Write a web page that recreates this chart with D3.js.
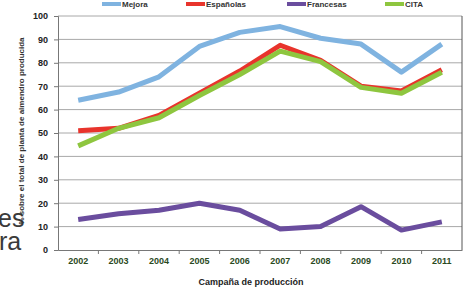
<html>
<head>
  <style>
    body { margin: 0; background: #fff; }
    svg { display: block; }
  </style>
  <script src="https://d3js.org/d3.v7.min.js"></script>
</head>
<body>
  <svg></svg>
  <script type="text/javascript">
    var years = ["2002", "2003", "2004", "2005", "2006", "2007", "2008", "2009", "2010", "2011"]
    var mejora = [64, 67.5, 74, 87, 93, 95.5, 90.5, 88, 76, 88]
    var espanolas = [51, 52, 57.5, 67, 76.5, 87.5, 81, 70, 68, 77]
    var francesas = [13, 15.5, 17, 20, 17, 9, 10, 18.5, 8.5, 12]
    var cita = [44.5, 52, 56.5, 66, 75, 85, 80.5, 69.5, 67, 76]
    var yTicks = [0, 10, 20, 30, 40, 50, 60, 70, 80, 90, 100]

    var series = [
      {name: "Mejora", values: mejora, color: "#7fb3e0"},
      {name: "Españolas", values: espanolas, color: "#e8342c"},
      {name: "Francesas", values: francesas, color: "#6a4d9e"},
      {name: "CITA", values: cita, color: "#8ec63f"}
    ]

    var w = 470
    var h = 291
    var padLeft = 58
    var padRight = 462
    var padTop = 16
    var padBottom = 250

    var svg = d3.select("svg")
      .attr("width", w)
      .attr("height", h)

    // leftovers of the slide behind the chart
    svg.append("text").text("es")
      .attr("x", -2).attr("y", 227)
      .style("font-family", "Liberation Sans, Arial").style("font-size", "25px").attr("fill", "#3a3a3a")
    svg.append("text").text("ra")
      .attr("x", -1).attr("y", 250)
      .style("font-family", "Liberation Sans, Arial").style("font-size", "25px").attr("fill", "#3a3a3a")

    var xScale = d3.scaleBand()
      .domain(years)
      .range([padLeft, padRight])

    var yScale = d3.scaleLinear()
      .domain([0, 100])
      .range([padBottom, padTop])

    // grid
    svg.append("g").selectAll("line")
      .data(yTicks.slice(1))
      .enter()
      .append("line")
      .attr("x1", padLeft).attr("x2", padRight)
      .attr("y1", function(d) { return yScale(d) })
      .attr("y2", function(d) { return yScale(d) })
      .attr("stroke", "#a8a8a8")
      .attr("stroke-width", 1)

    // right border
    svg.append("line")
      .attr("x1", padRight).attr("x2", padRight)
      .attr("y1", padTop).attr("y2", padBottom)
      .attr("stroke", "#555")

    // axes
    var yAxis = d3.axisLeft(yScale)
      .tickValues(yTicks)
      .tickSize(4)
      .tickPadding(6)

    var gy = svg.append("g")
      .attr("transform", "translate(" + padLeft + ",0)")
      .call(yAxis)
    gy.select(".domain").attr("stroke", "#777")
    gy.selectAll(".tick line").attr("stroke", "#777")
    gy.selectAll("text")
      .style("font-family", "Liberation Sans, Arial")
      .style("font-size", "9px")
      .style("font-weight", "bold")
      .attr("fill", "#222")

    var xAxis = d3.axisBottom(xScale)
      .tickSize(0)
      .tickPadding(8)

    var gx = svg.append("g")
      .attr("transform", "translate(0," + padBottom + ")")
      .call(xAxis)
    gx.select(".domain").attr("stroke", "#777")
    gx.selectAll("text")
      .style("font-family", "Liberation Sans, Arial")
      .style("font-size", "9px")
      .style("font-weight", "bold")
      .attr("fill", "#2b4a1e")

    // small ticks between categories
    svg.append("g").selectAll("line")
      .data(years.slice(1))
      .enter()
      .append("line")
      .attr("x1", function(d) { return xScale(d) })
      .attr("x2", function(d) { return xScale(d) })
      .attr("y1", padBottom).attr("y2", padBottom + 4)
      .attr("stroke", "#777")

    // lines
    var line = d3.line()
      .x(function(d, i) { return xScale(years[i]) + xScale.bandwidth() / 2 })
      .y(function(d) { return yScale(d) })

    var order = [0, 2, 1, 3]
    svg.append("g").selectAll("path")
      .data(order.map(function(i) { return series[i] }))
      .enter()
      .append("path")
      .attr("d", function(d) { return line(d.values) })
      .attr("fill", "none")
      .attr("stroke", function(d) { return d.color })
      .attr("stroke-width", 5)
      .attr("stroke-linejoin", "round")

    // legend
    var legendX = [102, 186, 287, 385]
    var lg = svg.append("g").selectAll("g")
      .data(series)
      .enter()
      .append("g")
      .attr("transform", function(d, i) { return "translate(" + legendX[i] + ",4)" })
    lg.append("line")
      .attr("x1", 0).attr("x2", 19)
      .attr("stroke", function(d) { return d.color })
      .attr("stroke-width", 4)
    lg.append("text")
      .text(function(d) { return d.name })
      .attr("x", 20).attr("y", 3)
      .style("font-family", "Liberation Sans, Arial")
      .style("font-size", "8px")
      .style("font-weight", "bold")
      .attr("fill", "#333")

    // axis titles
    svg.append("text")
      .text("% sobre el total de planta de almendro producida")
      .attr("transform", "translate(24,131) rotate(-90)")
      .attr("text-anchor", "middle")
      .style("font-family", "Liberation Sans, Arial")
      .style("font-size", "8px")
      .style("font-weight", "bold")
      .attr("fill", "#333")

    svg.append("text")
      .text("Campaña de producción")
      .attr("x", 251).attr("y", 285)
      .attr("text-anchor", "middle")
      .style("font-family", "Liberation Sans, Arial")
      .style("font-size", "9px")
      .style("font-weight", "bold")
      .attr("fill", "#222")
  </script>
</body>
</html>
